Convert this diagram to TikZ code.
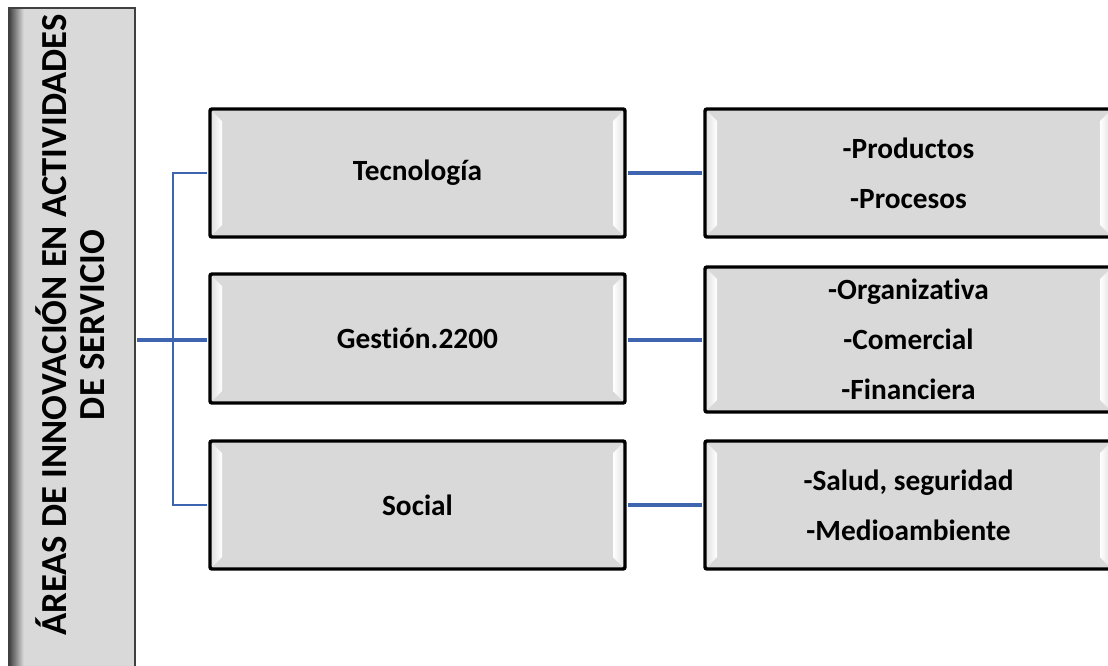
\documentclass[tikz,border=0pt]{standalone}
\usepackage{fontspec}
\setmainfont{Carlito}[Ligatures={NoCommon}]
\definecolor{boxgray}{HTML}{D9D9D9}
\definecolor{linkblue}{HTML}{3F65B0}
\tikzset{
  bevelbox/.style={draw=black, line width=2.6pt, fill=boxgray, rounded corners=1.5pt,
    align=center, inner sep=0pt,
    font=\fontsize{22pt}{37.5pt}\selectfont\bfseries,
    path picture={
      \coordinate (pa) at (path picture bounding box.north west);
      \coordinate (pb) at (path picture bounding box.south east);
      \coordinate (pc) at (path picture bounding box.north east);
      \coordinate (pd) at (path picture bounding box.south west);
      \shade[sharp corners, left color=gray!25, right color=white]
        (pa) -- ([xshift=9pt,yshift=-9pt]pa) -- ([xshift=9pt,yshift=9pt]pd) -- (pd) -- cycle;
      \shade[sharp corners, left color=white, right color=gray!25]
        (pc) -- ([xshift=-9pt,yshift=-9pt]pc) -- ([xshift=-9pt,yshift=9pt]pb) -- (pb) -- cycle;
    }},
  rootbox/.style={draw=black!75, line width=1.1pt, fill=boxgray, inner sep=0pt,
    path picture={
      \coordinate (qa) at (path picture bounding box.north west);
      \coordinate (qd) at (path picture bounding box.south west);
      \shade[left color=black!75, right color=boxgray]
        (qa) rectangle ([xshift=11pt]qd);
    }},
  roottext/.style={align=center, inner sep=0pt,
    font=\fontsize{27.5pt}{28.5pt}\selectfont\bfseries},
  conn/.style={draw=linkblue, line width=2.5pt},
  thinconn/.style={draw=linkblue, line width=2pt},
}
\begin{document}
\begin{tikzpicture}[x=0.75pt, y=-0.75pt]
\useasboundingbox (0,0) rectangle (1108,665);
\fill[white] (0,0) rectangle (1108,665);
\clip (0,0) rectangle (1108,665);

\coordinate (hub) at (173,340);
\node[rootbox, minimum width=94.5pt, minimum height=504pt] (root) at (72,344) {};
\node[roottext, rotate=90] (roottxt) at (70,325) {ÁREAS DE INNOVACIÓN EN ACTIVIDADES\\DE SERVICIO};

\node[bevelbox, minimum width=311.25pt, minimum height=96pt] (tec) at (417.5,173) {Tecnología};
\node[bevelbox, minimum width=311.25pt, minimum height=96.75pt] (ges) at (417.5,338.5) {Gestión.2200};
\node[bevelbox, minimum width=311.25pt, minimum height=96pt] (soc) at (417.5,505) {Social};

\node[bevelbox, minimum width=305.25pt, minimum height=96pt] (pp) at (908.5,173) {-Productos\\-Procesos};
\node[bevelbox, minimum width=305.25pt, minimum height=108.75pt] (ocf) at (908.5,339.5) {-Organizativa\\-Comercial\\-Financiera};
\node[bevelbox, minimum width=305.25pt, minimum height=96pt] (sm) at (908.5,505) {-Salud, seguridad\\-Medioambiente};

\draw[conn] ([xshift=0.6pt]root.east |- hub) -- (hub);
\draw[thinconn] (hub) |- ([xshift=-1.3pt]tec.west);
\draw[thinconn] (hub) |- ([xshift=-1.3pt]soc.west);
\draw[conn] (hub) -- ([xshift=-1.3pt]hub -| ges.west);
\draw[conn] ([xshift=1.3pt]tec.east) -- ([xshift=-1.3pt]pp.west);
\draw[conn] ([xshift=1.3pt]ges.east |- hub) -- ([xshift=-1.3pt]hub -| ocf.west);
\draw[conn] ([xshift=1.3pt]soc.east) -- ([xshift=-1.3pt]sm.west);
\end{tikzpicture}
\end{document}
